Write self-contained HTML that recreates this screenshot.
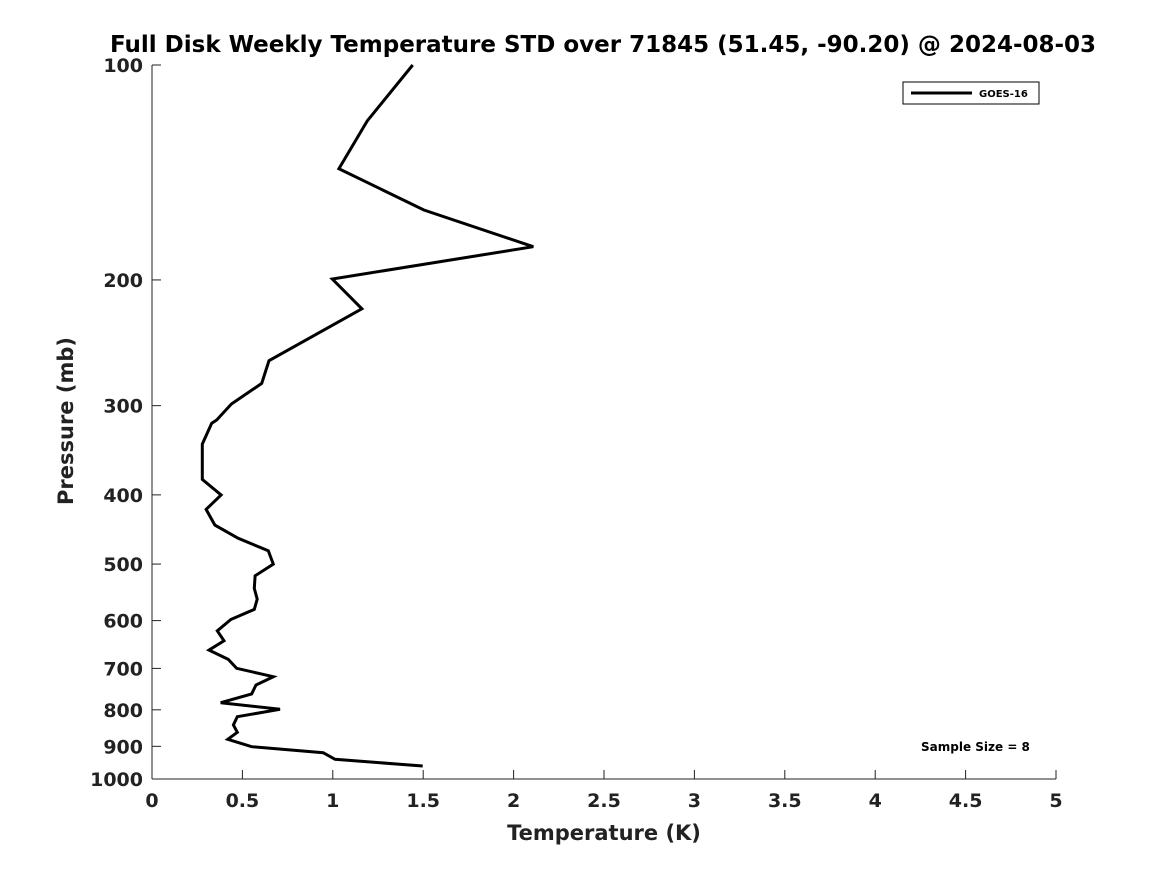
<!DOCTYPE html>
<html><head><meta charset="utf-8"><style>
body{margin:0;background:#fff;}
svg text{font-family:"DejaVu Sans","Liberation Sans",sans-serif;font-weight:bold;fill:#222;}
</style></head><body>
<svg id="chart" width="1167" height="875" viewBox="0 0 1167 875" xmlns="http://www.w3.org/2000/svg">
<rect width="1167" height="875" fill="#fff"/>
<text x="603" y="52" text-anchor="middle" font-size="23" style="fill:#000">Full Disk Weekly Temperature STD over 71845 (51.45, -90.20) @ 2024-08-03</text>
<g id="axes"></g>
<path id="series" fill="none" stroke="#000" stroke-width="3" stroke-linejoin="miter"/>
<g>
<rect x="903" y="82" width="136" height="22" fill="#fff" stroke="#000" stroke-width="1"/>
<line x1="911" y1="93" x2="972" y2="93" stroke="#000" stroke-width="3"/>
<text x="979" y="97" font-size="10" style="fill:#000">GOES-16</text>
</g>
<text x="921" y="751" font-size="12" style="fill:#000">Sample Size = 8</text>
<text x="604" y="840" text-anchor="middle" font-size="21">Temperature (K)</text>
<text transform="translate(73,421) rotate(-90)" text-anchor="middle" font-size="21">Pressure (mb)</text>
</svg>
<script>
const temps=[1.442,1.191,1.034,1.504,2.109,0.997,1.161,0.647,0.607,0.439,0.358,0.330,0.278,0.278,0.382,0.299,0.348,0.477,0.643,0.671,0.570,0.566,0.582,0.566,0.437,0.361,0.398,0.315,0.422,0.468,0.671,0.575,0.551,0.380,0.708,0.472,0.450,0.472,0.419,0.551,0.947,1.012,1.497];
const pressures=[100,119.7,139.7,159.6,179.7,199.4,219.5,259.5,279.2,298.4,314.2,317.6,339.6,380.5,400.2,419.2,440.9,460.2,479,500,519.3,540.8,559.8,578.7,597.6,620,640.3,659.8,680,699.8,719,738.5,760.3,781.8,798.7,817.9,840.2,860.1,879.7,901,918.8,938.5,959];
const xTicks=[0,0.5,1,1.5,2,2.5,3,3.5,4,4.5,5];
const yTicks=[100,200,300,400,500,600,700,800,900,1000];
const X0=152,X1=1056,Y0=65,Y1=779;
const xs=v=>X0+(v-0)/(5-0)*(X1-X0);
const ys=p=>Y0+(Math.log10(p)-2)/(3-2)*(Y1-Y0);
const NS="http://www.w3.org/2000/svg";
const ax=document.getElementById('axes');
function mk(t,a){const e=document.createElementNS(NS,t);for(const k in a)e.setAttribute(k,a[k]);ax.appendChild(e);return e;}
let e=mk('line',{x1:X0,y1:Y0,x2:X0,y2:Y1,stroke:'#222','stroke-width':1});


e=mk('line',{x1:X0,y1:Y1,x2:X1,y2:Y1,stroke:'#222','stroke-width':1});


xTicks.forEach(v=>{
 const x=xs(v);
 const t=mk('line',{x1:x,y1:Y1,x2:x,y2:Y1-9,stroke:'#222','stroke-width':1});
 
 
 const l=mk('text',{x:x,y:807,'text-anchor':'middle','font-size':19});
 l.textContent=String(v);
 
 
});
yTicks.forEach(p=>{
 const y=ys(p);
 const t=mk('line',{x1:X0,y1:y,x2:X0+9,y2:y,stroke:'#222','stroke-width':1});
 
 
 const l=mk('text',{x:143,y:y+7,'text-anchor':'end','font-size':19});
 l.textContent=String(p);
 
 
});
document.getElementById('series').setAttribute('d',temps.map((t,i)=>(i?'L':'M')+xs(t).toFixed(1)+' '+ys(pressures[i]).toFixed(1)).join(' '));
</script>
</body></html>
